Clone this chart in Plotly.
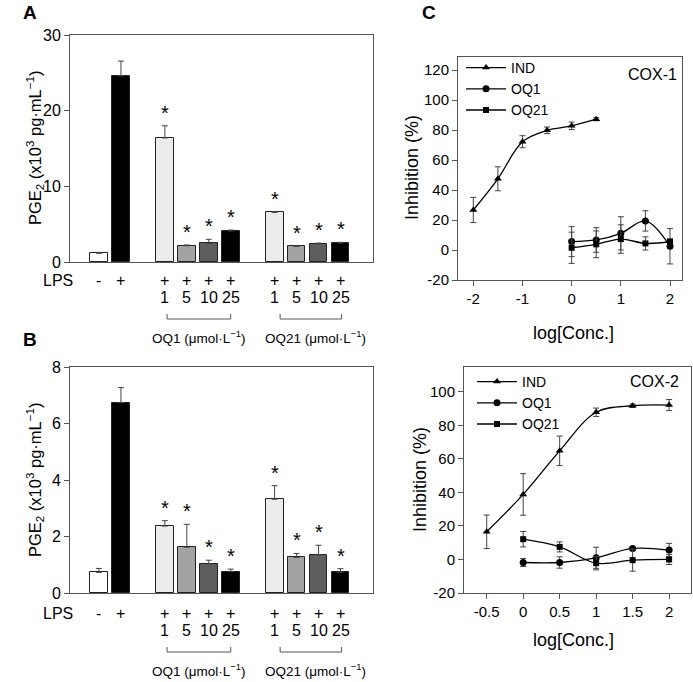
import plotly.graph_objects as go

W, H = 693, 682
FONT = "Liberation Sans, Arial, sans-serif"

# ---------------- Panels A / B (bar charts) ----------------
bar_slots = [0, 1, 3, 4, 5, 6, 8, 9, 10, 11]
lps_signs = ['-', '+', '+', '+', '+', '+', '+', '+', '+', '+']
dose_labels = ['', '', '1', '5', '10', '25', '1', '5', '10', '25']
significant = [False, False, True, True, True, True, True, True, True, True]
pge2_A = [1.15, 24.6, 16.4, 2.15, 2.45, 4.1, 6.55, 2.05, 2.4, 2.5]
pge2_A_err = [0.12, 1.95, 1.6, 0.1, 0.55, 0.12, 0.1, 0.1, 0.1, 0.1]
pge2_B = [0.73, 6.74, 2.37, 1.62, 1.03, 0.755, 3.32, 1.26, 1.35, 0.73]
pge2_B_err = [0.14, 0.53, 0.19, 0.81, 0.13, 0.09, 0.48, 0.14, 0.34, 0.13]
bar_colors = ['#ffffff', '#000000', '#ececec', '#a3a3a3', '#5e5e5e', '#000000',
              '#ececec', '#a3a3a3', '#5e5e5e', '#000000']
group_names = ['OQ1 (μmol·L<sup>−1</sup>)', 'OQ21 (μmol·L<sup>−1</sup>)']
group_brackets = [(3.1, 6.0), (8.25, 11.05)]
group_label_x = [2.33, 7.48]

# ---------------- Panel C (dose-response) ----------------
cox1_IND_x = [-2, -1.5, -1, -0.5, 0, 0.5]
cox1_IND_y = [26.7, 47.5, 72.2, 79.8, 82.8, 87.2]
cox1_IND_err = [8.4, 8.0, 4.0, 2.2, 2.5, 1.0]
cox1_OQ_x = [0, 0.5, 1, 1.5, 2]
cox1_OQ1_y = [5.6, 6.7, 11.1, 19.4, 2.5]
cox1_OQ1_err = [10.0, 8.2, 11.1, 6.8, 11.8]
cox1_OQ21_y = [1.5, 3.8, 7.3, 4.4, 5.5]
cox1_OQ21_err = [10.4, 8.9, 9.5, 4.4, 2.0]

cox2_IND_x = [-0.5, 0, 0.5, 1, 1.5, 2]
cox2_IND_y = [16.5, 38.8, 64.8, 87.8, 91.7, 92.1]
cox2_IND_err = [10.0, 12.4, 8.8, 2.5, 1.0, 3.3]
cox2_OQ_x = [0, 0.5, 1, 1.5, 2]
cox2_OQ1_y = [-1.8, -1.8, 1.0, 6.6, 5.6]
cox2_OQ1_err = [2.4, 3.4, 6.3, 1.0, 4.0]
cox2_OQ21_y = [12.1, 7.5, -2.2, -0.4, 0.0]
cox2_OQ21_err = [4.6, 3.0, 4.0, 6.6, 3.0]

c1_yticks = [-20, 0, 20, 40, 60, 80, 100, 120]
c1_xticks = [-2, -1, 0, 1, 2]
c2_yticks = [-20, 0, 20, 40, 60, 80, 100]
c2_xticks = [-0.5, 0, 0.5, 1, 1.5, 2]


def lbl(v):
    return '%g' % v


def px(x):
    return x / W


def py(y):
    return 1 - y / H


fig = go.Figure()

# bars
for data, err, xa, ya in [(pge2_A, pge2_A_err, 'x', 'y'), (pge2_B, pge2_B_err, 'x2', 'y2')]:
    fig.add_trace(go.Bar(
        x=bar_slots, y=data, width=0.81, xaxis=xa, yaxis=ya, showlegend=False,
        marker=dict(color=bar_colors, line=dict(color='#222222', width=1)),
        error_y=dict(type='data', symmetric=False, array=err, arrayminus=[0] * len(err),
                     color='#444444', thickness=1, width=3),
    ))

# dose-response lines
series = [
    ('IND', 'triangle-up', 7, cox1_IND_x, cox1_IND_y, cox1_IND_err, 'x3', 'y3', 'legend'),
    ('OQ1', 'circle', 7, cox1_OQ_x, cox1_OQ1_y, cox1_OQ1_err, 'x3', 'y3', 'legend'),
    ('OQ21', 'square', 6, cox1_OQ_x, cox1_OQ21_y, cox1_OQ21_err, 'x3', 'y3', 'legend'),
    ('IND', 'triangle-up', 7, cox2_IND_x, cox2_IND_y, cox2_IND_err, 'x4', 'y4', 'legend2'),
    ('OQ1', 'circle', 7, cox2_OQ_x, cox2_OQ1_y, cox2_OQ1_err, 'x4', 'y4', 'legend2'),
    ('OQ21', 'square', 6, cox2_OQ_x, cox2_OQ21_y, cox2_OQ21_err, 'x4', 'y4', 'legend2'),
]
for name, sym, size, xs, ys, es, xa, ya, lg in series:
    fig.add_trace(go.Scatter(
        x=xs, y=ys, name=name, mode='lines+markers', xaxis=xa, yaxis=ya, legend=lg,
        line=dict(color='black', width=1.3, shape='spline'),
        marker=dict(symbol=sym, size=size, color='black'),
        error_y=dict(type='data', array=es, color='#444444', thickness=1, width=3),
    ))

axis_common = dict(showline=True, linecolor='#555555', linewidth=1, mirror=True,
                   showgrid=False, zeroline=False, automargin=False,
                   tickfont=dict(family=FONT, size=16, color='black'))

layout = dict(
    width=W, height=H, margin=dict(l=0, r=0, t=0, b=0, autoexpand=False),
    paper_bgcolor='white', plot_bgcolor='white',
    font=dict(family=FONT, color='black'),
    bargap=0,
    xaxis=dict(domain=[px(70), px(373)], range=[-1.32, 12.48], anchor='y',
               showticklabels=False, ticks='', **axis_common),
    yaxis=dict(domain=[py(262), py(35)], range=[0, 30], dtick=10, anchor='x',
               ticks='outside', ticklen=5, tickcolor='#555555', **axis_common),
    xaxis2=dict(domain=[px(70), px(373)], range=[-1.32, 12.48], anchor='y2',
                showticklabels=False, ticks='', **axis_common),
    yaxis2=dict(domain=[py(593), py(367)], range=[0, 8], dtick=2, anchor='x2',
                ticks='outside', ticklen=5, tickcolor='#555555', **axis_common),
    xaxis3=dict(domain=[px(458), px(682)], range=[-2.311, 2.244], anchor='y3',
                tickvals=c1_xticks, ticktext=[lbl(v) for v in c1_xticks],
                ticks='outside', ticklen=5, tickcolor='#555555', **axis_common),
    yaxis3=dict(domain=[py(280), py(57)], range=[-20, 128.7], anchor='x3',
                tickvals=c1_yticks, ticktext=[lbl(v) for v in c1_yticks],
                ticks='outside', ticklen=5, tickcolor='#555555', **axis_common),
    xaxis4=dict(domain=[px(464), px(691)], range=[-0.811, 2.30], anchor='y4',
                tickvals=c2_xticks, ticktext=[lbl(v) for v in c2_xticks],
                ticks='outside', ticklen=5, tickcolor='#555555', **axis_common),
    yaxis4=dict(domain=[py(593), py(367)], range=[-20, 114.8], anchor='x4',
                tickvals=c2_yticks, ticktext=[lbl(v) for v in c2_yticks],
                ticks='outside', ticklen=5, tickcolor='#555555', **axis_common),
    legend=dict(x=px(461), y=py(52), xanchor='left', yanchor='top', bgcolor='rgba(0,0,0,0)',
                font=dict(family=FONT, size=14), tracegroupgap=0, itemwidth=40),
    legend2=dict(x=px(472), y=py(366), xanchor='left', yanchor='top', bgcolor='rgba(0,0,0,0)',
                 font=dict(family=FONT, size=14), tracegroupgap=0, itemwidth=40),
)
for k in ['xaxis3', 'yaxis3', 'xaxis4', 'yaxis4']:
    layout[k]['tickfont'] = dict(family=FONT, size=15, color='black')
fig.update_layout(**layout)

ann = []
shapes = []


def text(x, y, s, size=16, xref='paper', yref='paper', xanchor='center', yanchor='middle',
         angle=0, bold=False, yshift=0):
    ann.append(dict(x=x, y=y, xref=xref, yref=yref, text=('<b>%s</b>' % s) if bold else s,
                    showarrow=False, xanchor=xanchor, yanchor=yanchor, textangle=angle,
                    yshift=yshift, font=dict(family=FONT, size=size, color='black')))


# panel letters
text(px(30), py(13), 'A', size=19, bold=True)
text(px(30), py(339), 'B', size=19, bold=True)
text(px(429), py(13), 'C', size=19, bold=True)

# axis titles
ytitle = 'PGE<sub>2</sub> (x10<sup>3</sup> pg·mL<sup>−1</sup>)'
text(px(35), py(148), ytitle, size=16.5, angle=-90)
text(px(35), py(480), ytitle, size=16.5, angle=-90)
text(px(412), py(168), 'Inhibition (%)', size=18, angle=-90)
text(px(420), py(480), 'Inhibition (%)', size=18, angle=-90)
text(px(573), py(333), 'log[Conc.]', size=18)
text(px(573), py(640), 'log[Conc.]', size=18)
text(px(652), py(74), 'COX-1', size=16)
text(px(654), py(382), 'COX-2', size=16)

# rows beneath bar panels
for xa, ya, base, vals, errs, off in [('x', 'y', 262, pge2_A, pge2_A_err, 0),
                                     ('x2', 'y2', 593, pge2_B, pge2_B_err, 2)]:
    text(px(58), py(base + 18 + off), 'LPS', size=16)
    for s, sign, dose, sig, v, e in zip(bar_slots, lps_signs, dose_labels, significant, vals, errs):
        text(s, py(base + 18 + off), sign, size=16, xref=xa)
        if dose:
            text(s, py(base + 35 + off), dose, size=16, xref=xa)
        if sig:
            text(s, v + e, '*', size=20, xref=xa, yref=ya, yanchor='bottom', yshift=0)
    for (x0, x1), name, lx in zip(group_brackets, group_names, group_label_x):
        y_top = py(base + 52 + off)
        y_bot = py(base + 57 + off)
        shapes.append(dict(type='path', xref=xa, yref='paper',
                           path='M %g,%g L %g,%g L %g,%g L %g,%g' % (x0, y_top, x0, y_bot, x1, y_bot, x1, y_top),
                           line=dict(color='#555555', width=1)))
        text(lx, py(base + 75 + off), name, size=13.5, xref=xa, xanchor='left')

fig.update_layout(annotations=ann, shapes=shapes)
fig.write_html("out.html", config={'displayModeBar': False},
               post_script="document.body.style.margin='0';document.body.style.overflow='hidden';")
